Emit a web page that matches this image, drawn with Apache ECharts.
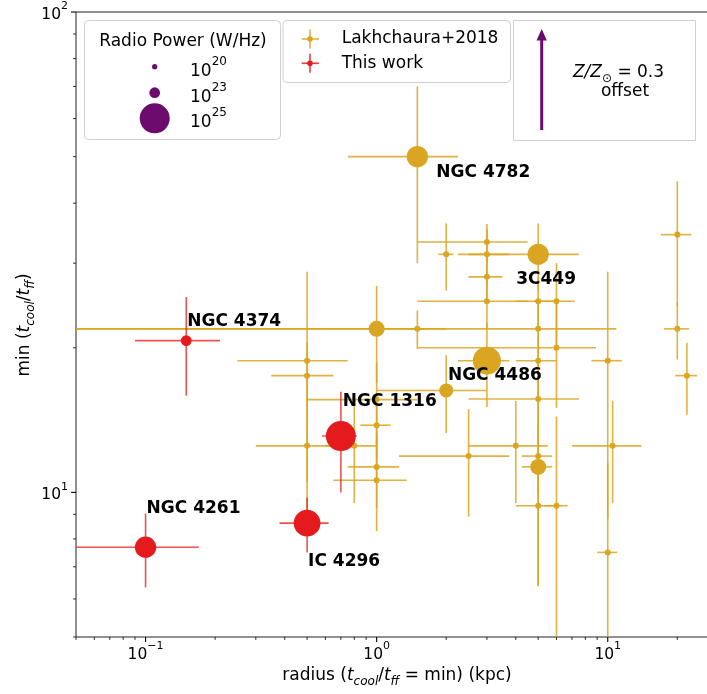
<!DOCTYPE html>
<html>
<head>
<meta charset="utf-8">
<script src="https://cdn.jsdelivr.net/npm/echarts@6/dist/echarts.min.js"></script>
<style>
  html, body { margin: 0; padding: 0; background: #fff; }
  #chart { width: 707px; height: 694px; }
</style>
</head>
<body>
<div id="chart"></div>
<script>
// Lakhchaura+2018 sample (radius in kpc, min tcool/tff, errors minus/plus, log10 radio power)
const lakhNames = ['NGC 4782', '3C449', 'NGC 4486']
const lakhX     = [1.5, 5, 3, 3, 2, 3, 3, 3, 5, 6, 20, 20, 22, 10, 10, 1, 1.5, 5, 6, 5, 5, 0.5, 0.5, 0.5, 0.8, 1, 1, 1, 1, 2, 4, 2.5, 5, 5, 5, 6, 10.5]
const lakhY     = [50, 31.3, 18.8, 33.2, 31.3, 31.3, 28.1, 25, 25, 25, 34.4, 21.9, 17.5, 18.8, 7.5, 21.9, 21.9, 21.9, 20, 18.8, 15.65, 18.8, 17.5, 12.5, 12.5, 15.6, 13.8, 11.3, 10.6, 16.3, 12.5, 11.9, 11.9, 11.3, 9.38, 9.38, 12.5]
const lakhXErrLo = [0.75, 2.5, 0.75, 1.5, 0.15, 0.75, 0.5, 1.5, 1, 1.2, 3, 2.5, 2.4, 1.5, 1, 1, 0.1, 5.9, 4.5, 1, 2.5, 0.25, 0.15, 0.2, 0.2, 0.5, 0.15, 0.25, 0.35, 1, 1.5, 1.25, 0.75, 0.75, 1, 0.7, 3.5]
const lakhXErrHi = [0.75, 2.5, 0.75, 1.5, 0.15, 0.75, 0.5, 1.5, 1, 1.2, 3, 2.5, 2.4, 1.5, 1, 1, 0.1, 5.9, 2.9, 1, 2.5, 0.25, 0.15, 0.2, 0.2, 0.5, 0.15, 0.25, 0.35, 1, 1.5, 1.25, 0.75, 0.75, 1, 0.7, 3.5]
const lakhYErr  = [20, 5, 3.75, 3, 5, 4, 3, 3, 3, 5, 10, 3, 3, 10, 4, 5, 2, 3, 5, 3, 3, 10, 3, 2, 3, 3, 2, 2, 2.3, 3, 3, 3, 2, 4.9, 3, 5, 3]
const lakhLogP  = [24.1, 24.1, 24.8, 20.4, 20.4, 20.4, 20.4, 20.4, 20.4, 20.4, 20.4, 20.4, 20.4, 20.4, 20.4, 23.55, 20.4, 20.4, 20.4, 20.4, 20.4, 20.4, 20.4, 20.4, 20.4, 20.4, 20.4, 20.4, 20.4, 23.35, 20.4, 20.4, 20.4, 23.55, 20.4, 20.4, 20.4]

// This work
const ourNames = ['NGC 4261', 'IC 4296', 'NGC 4374', 'NGC 1316']
const ourX     = [0.1, 0.5, 0.15, 0.7]
const ourY     = [7.69, 8.63, 20.7, 13.1]
const ourXErr  = [0.07, 0.12, 0.06, 0.12]
const ourYErr  = [1.35, 1.13, 4.8, 3.1]
const ourLogP  = [24.1, 24.66, 23.0, 25.0]

// radio power legend
const legendLogP   = [20, 23, 25]
const legendLabels = ['20', '23', '25']

const X_MIN = 0.05, X_MAX = 30
const Y_MIN = 5, Y_MAX = 100

const GOLD = '#daa520'
const RED = '#e41a1c'
const PURPLE = '#6c0b6e'
const FONT = 'DejaVu Sans'

// label offsets (px from the marker centre)
const labelOffsets = {
  'NGC 4782': [19, 16], '3C449': [-22, 25], 'NGC 4486': [-39, 15],
  'NGC 4261': [1, -39], 'IC 4296': [1, 38], 'NGC 4374': [1, -19], 'NGC 1316': [2, -34]
}

// marker diameter from log radio power, matched to the legend circles
function sizeFor(p) {
  const pts = [[20, 5.3], [23, 10.7], [25, 30]]
  if (p <= pts[1][0]) return pts[0][1] + (p - pts[0][0]) * (pts[1][1] - pts[0][1]) / (pts[1][0] - pts[0][0])
  return pts[1][1] + (p - pts[1][0]) * (pts[2][1] - pts[1][1]) / (pts[2][0] - pts[1][0])
}

function errData(xs, ys, xlo, xhi, ylo, yhi) {
  return xs.map((x, i) => {
    let x0 = x - xlo[i]
    let y0 = ys[i] - ylo[i]
    if (x0 <= 0) x0 = X_MIN / 4
    if (y0 <= 0) y0 = Y_MIN / 4
    return [x, ys[i], x0, x + xhi[i], y0, ys[i] + yhi[i]]
  })
}

function errorBars(data, color, opacity) {
  return {
    type: 'custom',
    clip: true,
    silent: true,
    encode: { x: 0, y: 1 },
    data: data,
    renderItem(params, api) {
      const c = api.coord([api.value(0), api.value(1)])
      const l = api.coord([api.value(2), api.value(1)])
      const r = api.coord([api.value(3), api.value(1)])
      const b = api.coord([api.value(0), api.value(4)])
      const t = api.coord([api.value(0), api.value(5)])
      const style = { stroke: color, lineWidth: 1.6, opacity: opacity }
      return {
        type: 'group',
        children: [
          { type: 'line', shape: { x1: l[0], y1: c[1], x2: r[0], y2: c[1] }, style },
          { type: 'line', shape: { x1: c[0], y1: t[1], x2: c[0], y2: b[1] }, style }
        ]
      }
    }
  }
}

// log tick positions (majors at decades, minors at 2..9)
function logTicks(lo, hi) {
  const out = []
  for (let e = Math.floor(Math.log10(lo)); e <= Math.ceil(Math.log10(hi)); e++) {
    for (let m = 1; m <= 9; m++) {
      const v = m * Math.pow(10, e)
      if (v >= lo * 0.999 && v <= hi * 1.001) out.push([v, m === 1 ? 1 : 0])
    }
  }
  return out
}

function tickSeries(axis) {
  const ticks = axis === 'x' ? logTicks(X_MIN, X_MAX) : logTicks(Y_MIN, Y_MAX)
  return {
    type: 'custom',
    clip: false,
    silent: true,
    encode: { x: 0, y: 1 },
    data: ticks.map(t => axis === 'x' ? [t[0], Y_MIN, t[1]] : [X_MIN, t[0], t[1]]),
    renderItem(params, api) {
      const p = api.coord([api.value(0), api.value(1)])
      const major = api.value(2) === 1
      const len = major ? 5 : 3
      const shape = axis === 'x'
        ? { x1: p[0], y1: p[1], x2: p[0], y2: p[1] + len }
        : { x1: p[0] - len, y1: p[1], x2: p[0], y2: p[1] }
      return { type: 'line', shape, style: { stroke: '#000', lineWidth: major ? 1.1 : 0.8 } }
    }
  }
}

function powLabel(v) {
  const lg = Math.log10(v)
  const e = Math.round(lg)
  if (Math.abs(lg - e) > 1e-6) return ''
  return '{b|10}{s|' + (e < 0 ? '\u2212' + (-e) : String(e)) + '}'
}

const tickRich = {
  b: { fontSize: 15.5, fontFamily: FONT, color: '#000', lineHeight: 22, verticalAlign: 'bottom' },
  s: { fontSize: 11, fontFamily: FONT, color: '#000', lineHeight: 22, verticalAlign: 'top' }
}

const chart = echarts.init(document.getElementById('chart'), null, { renderer: 'canvas' })

chart.setOption({
  animation: false,
  backgroundColor: '#fff',
  grid: {
    left: 76, top: 12, width: 642, height: 625,
    containLabel: false, outerBoundsMode: 'none',
    show: true, borderColor: '#222', borderWidth: 1, backgroundColor: 'transparent'
  },
  xAxis: {
    type: 'log', logBase: 10, min: X_MIN, max: X_MAX,
    axisLine: { show: false }, axisTick: { show: false }, splitLine: { show: false },
    axisLabel: { formatter: powLabel, rich: tickRich, margin: 4, showMinLabel: false, showMaxLabel: false }
  },
  yAxis: {
    type: 'log', logBase: 10, min: Y_MIN, max: Y_MAX,
    axisLine: { show: false }, axisTick: { show: false }, splitLine: { show: false },
    axisLabel: { formatter: powLabel, rich: tickRich, margin: 8, showMinLabel: false, showMaxLabel: true }
  },
  series: [
    errorBars(errData(lakhX, lakhY, lakhXErrLo, lakhXErrHi, lakhYErr, lakhYErr), GOLD, 0.85),
    {
      type: 'scatter', silent: true,
      data: lakhX.map((x, i) => [x, lakhY[i], lakhLogP[i]]),
      symbolSize: v => sizeFor(v[2]),
      itemStyle: { color: GOLD, opacity: 1 }
    },
    errorBars(errData(ourX, ourY, ourXErr, ourXErr, ourYErr, ourYErr), RED, 0.75),
    {
      type: 'scatter', silent: true,
      data: ourX.map((x, i) => [x, ourY[i], ourLogP[i]]),
      symbolSize: v => sizeFor(v[2]),
      itemStyle: { color: RED, opacity: 1 }
    },
    tickSeries('x'),
    tickSeries('y')
  ]
})

// graphics: object labels, axis titles, legends
const g = []

function addName(name, x, y) {
  const p = chart.convertToPixel({ gridIndex: 0 }, [x, y])
  const off = labelOffsets[name]
  g.push({
    type: 'text', x: p[0] + off[0], y: p[1] + off[1], z: 50,
    style: { text: name, font: 'bold 17px "DejaVu Sans"', fill: '#000', align: 'left', verticalAlign: 'middle' }
  })
}
lakhNames.forEach((n, i) => addName(n, lakhX[i], lakhY[i]))
ourNames.forEach((n, i) => addName(n, ourX[i], ourY[i]))

const titleRich = {
  n: { fontSize: 17, fontFamily: FONT, color: '#000', lineHeight: 24 },
  i: { fontSize: 17, fontFamily: FONT, fontStyle: 'italic', color: '#000', lineHeight: 24 },
  sub: { fontSize: 12, fontFamily: FONT, fontStyle: 'italic', color: '#000', lineHeight: 24, verticalAlign: 'bottom' }
}

g.push({
  type: 'text', x: 397, y: 676, z: 50,
  style: {
    text: '{n|radius (}{i|t}{sub|cool}{n|/}{i|t}{sub|ff}{n| = min) (kpc)}',
    rich: titleRich, align: 'center', verticalAlign: 'middle'
  }
})
g.push({
  type: 'text', x: 25, y: 325, rotation: Math.PI / 2, z: 50,
  style: {
    text: '{n|min (}{i|t}{sub|cool}{n|/}{i|t}{sub|ff}{n|)}',
    rich: titleRich, align: 'center', verticalAlign: 'middle'
  }
})

// legend box 1: radio power
g.push({
  type: 'rect', z: 60, shape: { x: 84.5, y: 20.5, width: 196, height: 119, r: 4 },
  style: { fill: 'rgba(255,255,255,0.8)', stroke: '#d0d0d0', lineWidth: 1 }
})
g.push({
  type: 'text', x: 183, y: 42, z: 61,
  style: { text: 'Radio Power (W/Hz)', font: '17px "DejaVu Sans"', fill: '#000', align: 'center', verticalAlign: 'middle' }
})
const legRowY = [66.7, 92.7, 118.3]
legendLogP.forEach((p, i) => {
  g.push({ type: 'circle', z: 61, shape: { cx: 154.7, cy: legRowY[i], r: sizeFor(p) / 2 }, style: { fill: PURPLE } })
  g.push({
    type: 'text', x: 190, y: legRowY[i] + 1, z: 61,
    style: {
      text: '{b|10}{s|' + legendLabels[i] + '}',
      rich: {
        b: { fontSize: 17, fontFamily: FONT, color: '#000', lineHeight: 24, verticalAlign: 'bottom' },
        s: { fontSize: 12, fontFamily: FONT, color: '#000', lineHeight: 24, verticalAlign: 'top' }
      },
      align: 'left', verticalAlign: 'middle'
    }
  })
})

// legend box 2: samples
g.push({
  type: 'rect', z: 60, shape: { x: 283, y: 20.5, width: 227.5, height: 62, r: 4 },
  style: { fill: 'rgba(255,255,255,0.8)', stroke: '#d0d0d0', lineWidth: 1 }
})
;[[GOLD, 39, 'Lakhchaura+2018'], [RED, 63.3, 'This work']].forEach(([col, y, txt]) => {
  const st = { stroke: col, lineWidth: 1.6, opacity: 0.85 }
  g.push({ type: 'line', z: 61, shape: { x1: 301.7, y1: y, x2: 319, y2: y }, style: st })
  g.push({ type: 'line', z: 61, shape: { x1: 310, y1: y - 9.5, x2: 310, y2: y + 9.5 }, style: st })
  g.push({ type: 'circle', z: 61, shape: { cx: 310, cy: y, r: 2.8 }, style: { fill: col } })
  g.push({
    type: 'text', x: 341.7, y: y, z: 61,
    style: { text: txt, font: '17px "DejaVu Sans"', fill: '#000', align: 'left', verticalAlign: 'middle' }
  })
})

// box 3: metallicity offset arrow
g.push({
  type: 'rect', z: 60, shape: { x: 513.5, y: 20.5, width: 182, height: 120 },
  style: { fill: 'rgba(255,255,255,0.8)', stroke: '#d0d0d0', lineWidth: 1 }
})
g.push({ type: 'line', z: 61, shape: { x1: 541.7, y1: 130, x2: 541.7, y2: 38 }, style: { stroke: PURPLE, lineWidth: 3 } })
g.push({
  type: 'polygon', z: 61, shape: { points: [[541.7, 29], [536.5, 40.5], [546.9, 40.5]] },
  style: { fill: PURPLE }
})
g.push({
  type: 'text', x: 618.5, y: 72.5, z: 61,
  style: {
    text: '{i|Z/Z}{sub|\u2299}{n| = 0.3}',
    rich: {
      n: { fontSize: 17, fontFamily: FONT, color: '#000', lineHeight: 24 },
      i: { fontSize: 17, fontFamily: FONT, fontStyle: 'italic', color: '#000', lineHeight: 24 },
      sub: { fontSize: 12, fontFamily: FONT, color: '#000', lineHeight: 24, verticalAlign: 'bottom' }
    },
    align: 'center', verticalAlign: 'middle'
  }
})
g.push({
  type: 'text', x: 625, y: 92, z: 61,
  style: { text: 'offset', font: '17px "DejaVu Sans"', fill: '#000', align: 'center', verticalAlign: 'middle' }
})

chart.setOption({ graphic: g })
</script>
</body>
</html>
